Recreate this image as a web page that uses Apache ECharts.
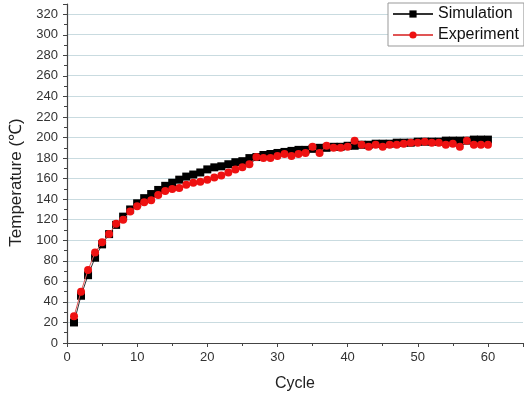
<!DOCTYPE html>
<html>
<head>
<meta charset="utf-8">
<script src="https://cdn.jsdelivr.net/npm/echarts@6/dist/echarts.min.js"></script>
<style>html,body{margin:0;padding:0;background:#fff}#c{width:524px;height:400px}</style>
</head>
<body>
<div id="c"></div>
<script>
const cycles = Array.from({length: 60}, (_, i) => i + 1);
const simulation = [20,46,66,83,96,106,115,123,130,136,141,145,149,153,156,159,162,164,166,169,
  171,172,174,176,177,180,181,183,184,185,186,187,188,188,189,190,190,191,191,192,
  192,193,193,194,194,194,195,195,195,196,196,196,196,197,197,197,197,198,198,198];
const experiment = [26,50,71,88,98,106,116,120,128,133,137,139,144,148,150,151,154,156,157,159,
  161,163,166,169,171,174,181,180,180,182,184,182,184,185,191,185,192,190,190,191,
  197,193,191,193,191,193,193,194,195,195,196,195,195,193,194,191,197,193,193,193];
const yTicks = {min: 0, max: 320, interval: 20, axisMax: 330};
const xTicks = {min: 0, max: 65, interval: 10};

const font = 'Liberation Sans, Arial, sans-serif';
const chart = echarts.init(document.getElementById('c'), null, {renderer: 'canvas'});
chart.setOption({
  animation: false,
  backgroundColor: '#fff',
  grid: [
    {left: 67, right: 1, top: 4, bottom: 57, containLabel: false},
    {left: 67, right: 1, top: 14, bottom: 57, containLabel: false}
  ],
  legend: {
    orient: 'vertical', left: 388, top: 3,
    itemWidth: 40, itemHeight: 9, itemGap: 5,
    padding: [3, 5, 3, 4],
    borderColor: '#999', borderWidth: 1, backgroundColor: '#fff',
    textStyle: {fontFamily: font, fontSize: 16, color: '#111'},
    data: ['Simulation', 'Experiment']
  },
  xAxis: [
    {
      gridIndex: 0, type: 'value', min: xTicks.min, max: xTicks.max, interval: xTicks.interval,
      name: 'Cycle', nameLocation: 'middle', nameGap: 33,
      nameTextStyle: {fontFamily: font, fontSize: 16, color: '#222'},
      axisLine: {show: true, onZero: false, lineStyle: {color: '#444', width: 1.2}},
      axisTick: {show: true, inside: false, length: 4, lineStyle: {color: '#444'}},
      minorTick: {show: true, splitNumber: 2, length: 3, lineStyle: {color: '#444'}},
      axisLabel: {fontFamily: font, fontSize: 13, color: '#333', margin: 8, showMaxLabel: false},
      splitLine: {show: false}
    },
    {
      gridIndex: 1, type: 'value', min: xTicks.min, max: xTicks.max, show: false
    }
  ],
  yAxis: [
    {
      gridIndex: 0, type: 'value', min: yTicks.min, max: yTicks.axisMax, interval: yTicks.interval,
      name: 'Temperature (\u2103)', nameLocation: 'middle', nameGap: 42, nameRotate: 90,
      nameTextStyle: {fontFamily: font, fontSize: 17, color: '#222', padding: [0, 18, 0, 0]},
      axisLine: {show: true, onZero: false, lineStyle: {color: '#444', width: 1.2}},
      axisTick: {show: true, inside: false, length: 4, lineStyle: {color: '#444'}},
      minorTick: {show: true, splitNumber: 2, length: 3, lineStyle: {color: '#444'}},
      axisLabel: {fontFamily: font, fontSize: 13, color: '#333', margin: 9, showMaxLabel: false},
      splitLine: {show: false}
    },
    {
      gridIndex: 1, type: 'value', min: yTicks.min, max: yTicks.max, interval: yTicks.interval,
      axisLine: {show: false}, axisTick: {show: false}, axisLabel: {show: false},
      splitLine: {show: true, lineStyle: {color: '#c9dbe0', width: 1}}
    }
  ],
  series: [
    {
      name: 'Simulation', type: 'line', xAxisIndex: 0, yAxisIndex: 0,
      data: cycles.map((c, i) => [c, simulation[i]]),
      symbol: 'rect', symbolSize: 8,
      itemStyle: {color: '#000'},
      lineStyle: {color: '#333', width: 1},
      z: 3
    },
    {
      name: 'Experiment', type: 'line', xAxisIndex: 0, yAxisIndex: 0,
      data: cycles.map((c, i) => [c, experiment[i]]),
      symbol: 'circle', symbolSize: 8,
      itemStyle: {color: '#ee1111'},
      lineStyle: {color: '#e05555', width: 1},
      z: 4
    }
  ]
});
</script>
</body>
</html>
